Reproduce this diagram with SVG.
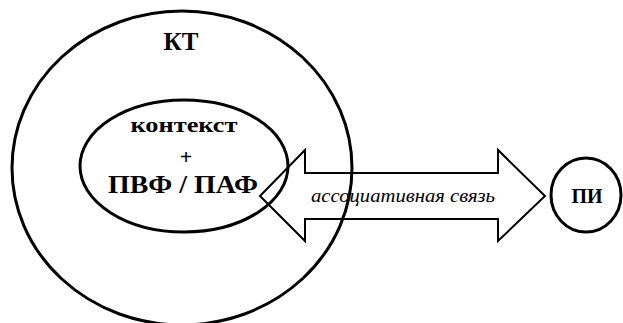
<svg xmlns="http://www.w3.org/2000/svg" width="623" height="323" viewBox="0 0 623 323">
<style>
.shape{fill:none;stroke:#000;stroke-width:3}
.arrow{fill:none;stroke:#000;stroke-width:2;stroke-linejoin:miter}
.b{font-family:'Liberation Serif','DejaVu Serif','Times New Roman',serif;font-weight:bold;fill:#000;text-anchor:middle}
.i{font-family:'Liberation Serif','DejaVu Serif','Times New Roman',serif;font-style:italic;fill:#000;text-anchor:middle}
</style>
<rect width="623" height="323" fill="#fff"/>
<g id="connectors">
<path class="arrow" d="M260,196 L305,150 L305,173 L498,173 L498,150 L545,196 L498,241 L498,219 L305,219 L305,241 Z"/>
<text class="i" x="403" y="202" font-size="18" textLength="184" lengthAdjust="spacingAndGlyphs">ассоциативная связь</text>
</g>
<g id="kt">
<ellipse class="shape" cx="182" cy="168" rx="170" ry="157"/>
<text class="b" x="181" y="50" font-size="25">КТ</text>
</g>
<g id="context">
<ellipse class="shape" cx="184" cy="166" rx="104" ry="66"/>
<text class="b" x="184" y="132" font-size="22" textLength="107" lengthAdjust="spacingAndGlyphs">контекст</text>
<text class="b" x="186" y="164" font-size="22">+</text>
<text class="b" x="183" y="193" font-size="26" textLength="150" lengthAdjust="spacingAndGlyphs">ПВФ / ПАФ</text>
</g>
<g id="pi">
<ellipse class="shape" cx="586" cy="195" rx="35" ry="37"/>
<text class="b" x="587" y="203" font-size="20">ПИ</text>
</g>
</svg>
